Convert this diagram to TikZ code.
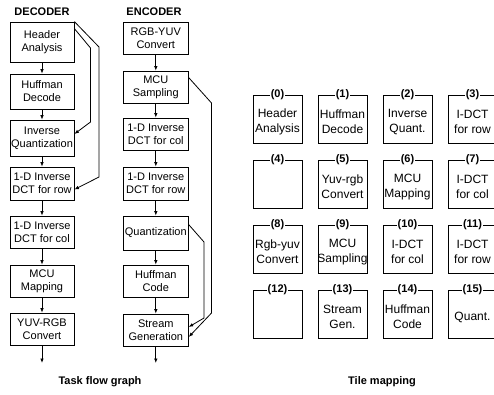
\documentclass[tikz,border=0pt]{standalone}
\usepackage{fontspec}
\setmainfont{Liberation Sans}
\usetikzlibrary{arrows.meta,calc}
\begin{document}
\begin{tikzpicture}[x=1pt,y=-1pt,
  flowbox/.style={draw, line width=0.8pt, minimum width=64pt, inner sep=0pt, align=center, font=\fontsize{11}{13}\selectfont},
  arr/.style={-{Latex[length=4.5pt,width=3.6pt]}, line width=0.8pt},
  tile/.style={draw, line width=0.8pt, minimum width=49pt, minimum height=48pt, inner sep=0pt},
  tilelbl/.style={fill=white, inner sep=1pt, font=\fontsize{11}{13}\selectfont\bfseries},
  tiletxt/.style={align=center, font=\fontsize{12}{15}\selectfont, inner sep=0pt},
  title/.style={font=\fontsize{11}{13}\selectfont\bfseries},
]
\useasboundingbox (0,0) rectangle (494,394);
% titles
\node[title] (tdec) at (42,12) {DECODER};
\node[title] (tenc) at (154,12) {ENCODER};
\node[title] (ttfg) at (100,382) {Task flow graph};
\node[title] (ttm) at (382,382) {Tile mapping};
% decoder
\node[flowbox, minimum height=40pt] (d0) at (42,42) {Header\\Analysis};
\node[flowbox, minimum height=35pt] (d1) at (42,91.5) {Huffman\\Decode};
\node[flowbox, minimum height=36pt] (d2) at (42,138) {Inverse\\Quantization};
\node[flowbox, minimum height=33pt] (d3) at (42,183.5) {1-D Inverse\\DCT for row};
\node[flowbox, minimum height=32pt] (d4) at (42,232) {1-D Inverse\\DCT for col};
\node[flowbox, minimum height=32pt] (d5) at (42,281) {MCU\\Mapping};
\node[flowbox, minimum height=32pt] (d6) at (42,329) {YUV-RGB\\Convert};
\coordinate (dend) at (42,363);
\draw[arr] (d0) -- (d1);
\draw[arr] (d1) -- (d2);
\draw[arr] (d2) -- (d3);
\draw[arr] (d3) -- (d4);
\draw[arr] (d4) -- (d5);
\draw[arr] (d5) -- (d6);
\draw[arr] (d6) -- (dend);
\draw[arr] ([yshift=-7pt]d0.north east) -- (90.5,48) -- (90.5,122) -- ([yshift=4pt]d2.east);
\draw[arr] (d0.north east) -- (99,47) -- (99,177) -- ([yshift=-6pt]d3.east);
% encoder
\node[flowbox, minimum width=65pt, minimum height=32pt] (e0) at (155.8,38) {RGB-YUV\\Convert};
\node[flowbox, minimum width=65pt, minimum height=32pt] (e1) at (155.8,87) {MCU\\Sampling};
\node[flowbox, minimum width=65pt, minimum height=32pt] (e2) at (155.8,134) {1-D Inverse\\DCT for col};
\node[flowbox, minimum width=65pt, minimum height=33pt] (e3) at (155.8,183.5) {1-D Inverse\\DCT for row};
\node[flowbox, minimum width=65pt, minimum height=34pt] (e4) at (155.8,233) {Quantization};
\node[flowbox, minimum width=65pt, minimum height=32pt] (e5) at (155.8,281) {Huffman\\Code};
\node[flowbox, minimum width=65pt, minimum height=32pt] (e6) at (155.8,330) {Stream\\Generation};
\coordinate (eend) at (155.8,363);
\draw[arr] (e0) -- (e1);
\draw[arr] (e1) -- (e2);
\draw[arr] (e2) -- (e3);
\draw[arr] (e3) -- (e4);
\draw[arr] (e4) -- (e5);
\draw[arr] (e5) -- (e6);
\draw[arr] (e6) -- (eend);
\draw[arr] ([yshift=-7pt]e1.north east) -- (211.5,103) -- (211.5,313) -- ([yshift=-7pt]e6.east);
\draw[arr] ([yshift=-9pt]e4.north east) -- (204,242) -- (204,318) -- ([yshift=3pt]e6.east);
% tiles
\foreach \i/\x/\y/\t in {0/277.5/119/{Header\\Analysis}, 1/342.5/119/{Huffman\\Decode}, 2/407.5/119/{Inverse\\Quant.}, 3/472.5/119/{I-DCT\\for row},
  4/277.5/184/{}, 5/342.5/184/{Yuv-rgb\\Convert}, 6/407.5/184/{MCU\\Mapping}, 7/472.5/184/{I-DCT\\for col},
  8/277.5/249/{Rgb-yuv\\Convert}, 9/342.5/249/{MCU\\Sampling}, 10/407.5/249/{I-DCT\\for col}, 11/472.5/249/{I-DCT\\for row},
  12/277.5/314/{}, 13/342.5/314/{Stream\\Gen.}, 14/407.5/314/{Huffman\\Code}, 15/472.5/314/{Quant.}}{
  \node[tile] (t\i) at (\x,\y) {};
  \node[tilelbl] (tl\i) at (t\i.north) {(\i)};
  \node[tiletxt] (tt\i) at ([yshift=-3pt]t\i.center) {\t};
}
\end{tikzpicture}
\end{document}
